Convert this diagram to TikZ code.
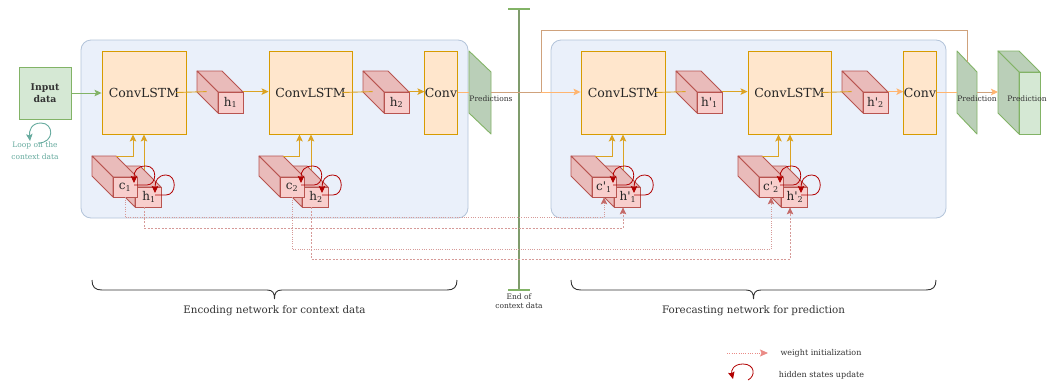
\documentclass[tikz,border=0pt]{standalone}
\usepackage{fontspec}
\setmainfont{DejaVu Serif}
\usetikzlibrary{arrows.meta}
\definecolor{contfill}{HTML}{EAF0FA}
\definecolor{contdraw}{HTML}{B3C4DA}
\definecolor{convfill}{HTML}{FFE6CC}
\definecolor{convdraw}{HTML}{D79B00}
\definecolor{cgold}{HTML}{DBA322}
\definecolor{cubefront}{HTML}{F8CECC}
\definecolor{cubeside}{HTML}{E9BBBA}
\definecolor{cubedraw}{HTML}{B85450}
\definecolor{gfill}{HTML}{D5E8D4}
\definecolor{gside}{HTML}{BACFB8}
\definecolor{gdraw}{HTML}{82B366}
\definecolor{lorange}{HTML}{FFB570}
\definecolor{cbrown}{HTML}{CFA27C}
\definecolor{loopred}{HTML}{B20000}
\definecolor{dotred}{HTML}{D69A98}
\definecolor{dottip}{HTML}{C46A68}
\definecolor{legdot}{HTML}{EA8B86}
\definecolor{cteal}{HTML}{67AB9F}
\definecolor{txt}{HTML}{333333}
\definecolor{ctxline}{HTML}{7F9C6C}
\tikzset{
 container/.style={draw=contdraw, fill=contfill, rounded corners=10pt, line width=0.8pt, inner sep=0pt},
 convbox/.style={draw=convdraw, fill=convfill, line width=0.9pt, inner sep=0pt, minimum height=83pt, font=\fontsize{12.5}{15}\selectfont, text=black!85},
 cubeface/.style={draw=cubedraw, fill=cubefront, line width=0.8pt, inner sep=0pt, font=\fontsize{12}{14}\selectfont, text=black!85},
 cubesidef/.style={draw=cubedraw, fill=cubeside, line width=0.8pt, line join=round},
 gface/.style={draw=gdraw, fill=gfill, line width=0.9pt, inner sep=0pt},
 gsidef/.style={draw=gdraw, fill=gside, line width=0.9pt, line join=round},
 arr/.style={-{Stealth[length=7pt,width=6.5pt,inset=1.5pt]}},
 goldline/.style={draw=cgold, line width=0.9pt},
 loline/.style={draw=lorange, line width=0.9pt},
 brline/.style={draw=cbrown, line width=0.9pt},
 redloop/.style={draw=loopred, line width=0.8pt, -{Stealth[length=7pt,width=6.5pt,inset=1pt]}},
 dotc/.style={draw=dotred, line width=0.9pt, dash pattern=on 1pt off 1.3pt, -{Stealth[length=7pt,width=6.5pt,inset=1.5pt,color=dottip]}},
 doth/.style={draw=dotred, line width=0.9pt, dash pattern=on 2pt off 1.5pt, -{Stealth[length=7pt,width=6.5pt,inset=1.5pt,color=dottip]}},
 small/.style={font=\fontsize{8}{9}\selectfont, text=txt, inner sep=0pt},
 brace/.style={draw=txt, line width=0.9pt},
}
\newcommand\topcube[3]{%
 \draw[cubesidef] (#1-21,71) -- (#1+4,71) -- (#1+25,92) -- (#1,92) -- cycle;
 \draw[cubesidef] (#1-21,71) -- (#1,92) -- (#1,113) -- (#1-21,92) -- cycle;
 \node[cubeface, minimum width=25pt, minimum height=21pt] (#2) at (#1+12.5,102.5) {#3};}
\newcommand\lowgroup[5]{%
 \begin{scope}[shift={(#1,0)}]
  \draw[cubesidef] (114,166) -- (140,166) -- (161,187) -- (135,187) -- cycle;
  \draw[cubesidef] (114,166) -- (135,187) -- (135,207) -- (114,186) -- cycle;
  \node[cubeface, minimum width=26pt, minimum height=20pt] (#2h) at (148,197) {\hspace*{2pt}#4};
  \draw[cubesidef] (92,156) -- (116,156) -- (137,177) -- (113,177) -- cycle;
  \draw[cubesidef] (92,156) -- (113,177) -- (113,197) -- (92,176) -- cycle;
  \node[cubeface, minimum width=24pt, minimum height=20pt] (#2c) at (125,187) {#3};
  \coordinate (#2ct) at (116,156);
  \coordinate (#2ht) at (144,170);
  \draw[goldline, arr] (#2ct) -| ([xshift=-11pt]#5.south);
  \draw[goldline, arr] (#2ht) -- (#2ht |- #5.south);
  \draw[redloop] (134,185) -- (147,185) .. controls (157,185) and (158,166) .. (146,166) .. controls (137,166) and (134,171) .. (134,183);
  \draw[redloop] (155,195) -- (166,195) .. controls (177,195) and (177,175) .. (166,175) .. controls (158,175) and (155,181) .. (155,193);
 \end{scope}}
\newcommand\hp{h\textquotesingle}
\newcommand\cp{c\textquotesingle}
\begin{document}
\begin{tikzpicture}[x=1pt,y=-1pt]
\useasboundingbox (0,0) rectangle (1047,381);
\fill[white] (0,0) rectangle (1047,381);

% containers
\node[container, minimum width=387pt, minimum height=178pt] (enc) at (274.5,129) {};
\node[container, minimum width=395pt, minimum height=178pt] (fore) at (748.5,129) {};

% end of context line
\coordinate (vtop) at (519,9);
\coordinate (vbot) at (519,290);
\draw[draw=ctxline, line width=1.1pt] (vtop) -- (vbot);
\draw[draw=gdraw, line width=1.1pt] ([xshift=-11pt]vtop) -- ([xshift=11pt]vtop);
\draw[draw=gdraw, line width=1.1pt] ([xshift=-11pt]vbot) -- ([xshift=11pt]vbot);
\node[small, align=center, font=\fontsize{7.5}{9}\selectfont] (endctx) at (519,301.5) {End of\\context data};

% input
\node[gface, minimum width=52pt, minimum height=52pt, align=center, font=\bfseries\fontsize{9.3}{12}\selectfont, text=txt] (input) at (45,93) {Input\\data};
\draw[cteal, line width=0.9pt, -{Stealth[length=7pt,width=6.5pt,inset=1.5pt]}] (38,143) .. controls (55,143) and (54,123) .. (41,123) .. controls (31,123) and (29,131) .. (30,141);
\node[small, align=center, text=cteal, font=\fontsize{7.5}{12}\selectfont] (loopctx) at (35,151) {Loop on the\\context data};

% conv boxes
\node[convbox, minimum width=84pt] (conv1) at (144,92.5) {ConvLSTM};
\node[convbox, minimum width=83pt] (conv2) at (310.5,92.5) {ConvLSTM};
\node[convbox, minimum width=31pt] (convA) at (441,92.5) {Conv};
\node[convbox, minimum width=84pt] (conv3) at (623,92.5) {ConvLSTM};
\node[convbox, minimum width=83pt] (conv4) at (789.5,92.5) {ConvLSTM};
\node[convbox, minimum width=32pt] (convB) at (920,92.5) {Conv};

\draw[gdraw, line width=0.9pt, arr] (input.east) -- (input.east -| conv1.west);

% upper cubes
\topcube{218}{ha}{h\textsubscript{1}}
\topcube{384}{hb}{h\textsubscript{2}}
\topcube{697}{hc}{\hp\textsubscript{1}}
\topcube{863}{hd}{\hp\textsubscript{2}}

\draw[goldline] ([xshift=-10pt]conv1.east) -- ([xshift=-11pt]ha.north west);
\draw[goldline, arr] (ha.north east) -- (ha.north east -| conv2.west);
\draw[goldline] ([xshift=-10pt]conv2.east) -- ([xshift=-11pt]hb.north west);
\draw[goldline, arr] (hb.north east) -- (hb.north east -| convA.west);
\draw[goldline] ([xshift=-10pt]conv3.east) -- ([xshift=-11pt]hc.north west);
\draw[goldline, arr] (hc.north east) -- (hc.north east -| conv4.west);
\draw[goldline] ([xshift=-10pt]conv4.east) -- ([xshift=-11pt]hd.north west);
\draw[loline, arr] (hd.north east) -- (hd.north east -| convB.west);

% predictions parallelograms
\draw[gsidef] (469,51) -- (491,72) -- (491,134) -- (469,113) -- cycle;
\coordinate (pAl) at (469,92);
\coordinate (pAr) at (491,92);
\draw[gsidef] (957,51) -- (977,72) -- (977,134) -- (957,113) -- cycle;
\coordinate (pBl) at (957,92);
\coordinate (pBr) at (977,92);
\coordinate (pBtop) at (967,61.5);
% prediction cube
\draw[gsidef] (998,51) -- (1019,51) -- (1040,72) -- (1019,72) -- cycle;
\draw[gsidef] (998,51) -- (1019,72) -- (1019,134) -- (998,113) -- cycle;
\node[gface, minimum width=21pt, minimum height=62pt] (predcube) at (1029.5,103) {};
\coordinate (pCl) at (998,92);

% flow lines
\coordinate (junc) at (541,92);
\coordinate (fbcorner) at (541,30);
\draw[loline] (convA.east |- pAl) -- (pAl);
\draw[brline] (pAr) -- (junc);
\draw[brline] (pBtop) |- (fbcorner) -- (junc);
\draw[loline, arr] (junc) -- (junc -| conv3.west);
\draw[loline] (convB.east |- pBl) -- (pBl);
\draw[brline, -{Stealth[length=7pt,width=6.5pt,inset=1.5pt,color=lorange]}] (pBr) -- (pCl);

\node[small, font=\fontsize{7.5}{9}\selectfont] (predA) at (491,99) {Predictions};
\node[small, font=\fontsize{7.5}{9}\selectfont] (predB) at (977,99) {Prediction};
\node[small, font=\fontsize{7.5}{9}\selectfont] (predC) at (1027,99) {Prediction};

% lower cubes
\lowgroup{0}{ea}{c\textsubscript{1}}{h\textsubscript{1}}{conv1}
\lowgroup{167}{eb}{c\textsubscript{2}}{h\textsubscript{2}}{conv2}
\lowgroup{479}{fa}{\cp\textsubscript{1}}{\hp\textsubscript{1}}{conv3}
\lowgroup{646}{fb}{\cp\textsubscript{2}}{\hp\textsubscript{2}}{conv4}

% weight initialization
\draw[dotc] (eac.south) -- ++(0,20) -| (fac.south);
\draw[doth] ([xshift=-4pt]eah.south) -- ++(0,21) -| ([xshift=-4pt]fah.south);
\draw[dotc] (ebc.south) -- ++(0,52) -| (fbc.south);
\draw[doth] ([xshift=-4pt]ebh.south) -- ++(0,52) -| ([xshift=-4pt]fbh.south);

% braces
\draw[brace] (92,280) .. controls (92,287) and (95,290) .. (102,290) -- (267,290) .. controls (273,290) and (274.5,293) .. (274.5,299) .. controls (274.5,293) and (276,290) .. (282,290) -- (447,290) .. controls (454,290) and (457,287) .. (457,280);
\node[small, font=\fontsize{10.3}{12}\selectfont] (enclbl) at (274.5,311) {Encoding network for context data};
\draw[brace] (571,280) .. controls (571,287) and (574,290) .. (581,290) -- (746,290) .. controls (752,290) and (753.5,293) .. (753.5,299) .. controls (753.5,293) and (755,290) .. (761,290) -- (926,290) .. controls (933,290) and (936,287) .. (936,280);
\node[small, font=\fontsize{10.3}{12}\selectfont] (forelbl) at (753.5,311) {Forecasting network for prediction};

% legend
\coordinate (lg1) at (727,353);
\coordinate (lg2) at (768,353);
\draw[legdot, line width=0.9pt, dash pattern=on 1pt off 1.3pt, -{Stealth[length=8pt,width=7pt,inset=1.5pt]}] (lg1) -- (lg2);
\node[small] (leg1) at (821,353) {weight initialization};
\draw[redloop] (748,380) .. controls (756,376) and (755,364) .. (743,364) .. controls (733,364) and (731,371) .. (733,379);
\node[small] (leg2) at (821.5,375) {hidden states update};
\end{tikzpicture}
\end{document}
